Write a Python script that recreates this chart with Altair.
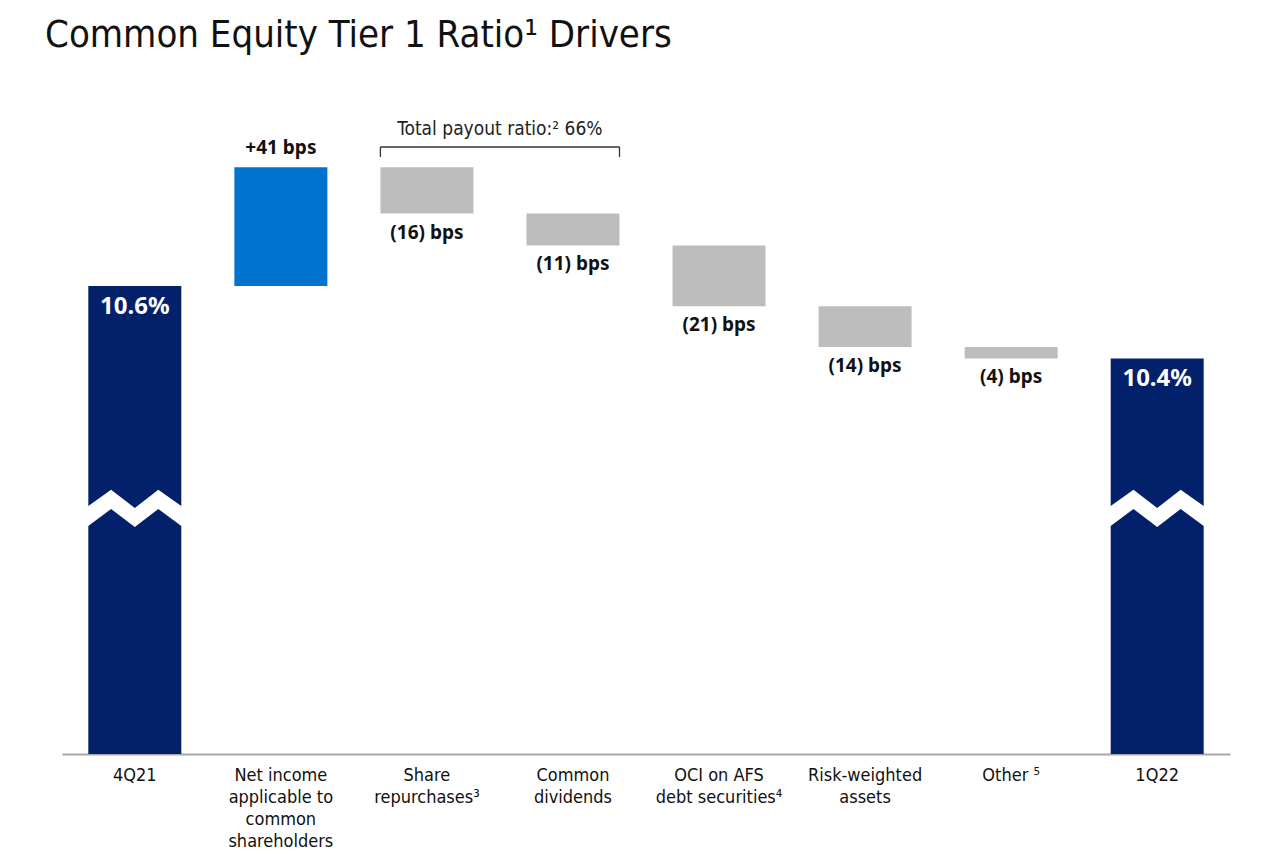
import altair as alt
import pandas as pd

# ---- data (basis points of CET1 ratio) ----
categories = ["4Q21", "Net income|applicable to|common|shareholders", "Share|repurchases\u00b3",
              "Common|dividends", "OCI on AFS|debt securities\u2074", "Risk-weighted|assets",
              "Other \u2075", "1Q22"]
values = [1060, 41, -16, -11, -21, -14, -4, 1035]
kinds = ["total", "delta", "delta", "delta", "delta", "delta", "delta", "total"]
labels = ["10.6%", "+41 bps", "(16) bps", "(11) bps", "(21) bps", "(14) bps", "(4) bps", "10.4%"]
payout_text = "Total payout ratio:\u00b2 66%"

NAVY = "#03206A"
BLUE = "#0073CF"
GRAY = "#BDBDBD"
FONT = "Liberation Sans Narrow, DejaVu Sans Condensed, Roboto Condensed, Noto Sans, sans-serif"
BOLD = "Noto Sans, DejaVu Sans, sans-serif"

Y_MIN, Y_MAX = 898.6, 1127.6

rows = []
running = 0
for c, v, k, l in zip(categories, values, kinds, labels):
    if k == "total":
        start, end = Y_MIN, v
        running = v
        color = NAVY
    else:
        start, end = running, running + v
        running = end
        color = BLUE if v > 0 else GRAY
    top = max(start, end)
    bot = min(start, end)
    rows.append(dict(cat=c, start=start, end=end, top=top, bot=bot, kind=k,
                     label=l, color=color, pos=(v > 0)))
df = pd.DataFrame(rows)

xscale = alt.Scale(domain=categories, paddingInner=0.363, paddingOuter=0.18)
xenc = alt.X("cat:N", scale=xscale,
             axis=alt.Axis(title=None, labelExpr="split(datum.label, '|')",
                           labelAngle=0, labelFont=FONT, labelFontSize=18,
                           labelColor="#111111", labelLineHeight=22,
                           labelBaseline="top", labelPadding=12,
                           ticks=False, domainColor="#A8A8A8", domainWidth=2,
                           labelLimit=200))
xs = alt.X("cat:N", scale=xscale)
yscale = alt.Scale(domain=[Y_MIN, Y_MAX], nice=False, zero=False)

base = alt.Chart(df)

bars = base.mark_bar(size=93).encode(
    x=xenc,
    y=alt.Y("start:Q", scale=yscale, axis=None),
    y2="end:Q",
    color=alt.Color("color:N", scale=None),
)

# break marker on total bars
brk_path = ("M-1.03,-0.02 L-0.51,-0.39 L0,0 L0.505,-0.39 L1.03,-0.02 "
            "L1.03,0.41 L0.505,0.02 L0,0.41 L-0.51,0.02 L-1.03,0.41 Z")
breaks = base.transform_filter(alt.datum.kind == "total").mark_point(
    shape=brk_path, filled=True, fill="white", strokeWidth=0, opacity=1, size=93 * 93
).encode(x=xs, y=alt.value(418))

tot_lab = base.transform_filter(alt.datum.kind == "total").mark_text(
    baseline="top", dy=9, font=BOLD, fontWeight="bold", fontSize=24, color="white"
).encode(x=xs, y="top:Q", text="label:N")

pos_lab = base.transform_filter((alt.datum.kind == "delta") & alt.datum.pos).mark_text(
    baseline="alphabetic", dy=-13, font=BOLD, fontWeight="bold", fontSize=19, color="#111111"
).encode(x=xs, y="top:Q", text="label:N")

neg_lab = base.transform_filter((alt.datum.kind == "delta") & (~alt.datum.pos)).mark_text(
    baseline="top", dy=10, font=BOLD, fontWeight="bold", fontSize=19, color="#111111"
).encode(x=xs, y="bot:Q", text="label:N")

# bracket over share repurchases + common dividends
br = pd.DataFrame([dict(a=categories[2], b=categories[3], t=payout_text)])
bchart = alt.Chart(br)
bracket = bchart.mark_rule(color="#333333", strokeWidth=1.3).encode(
    x=alt.X("a:N", scale=xscale, bandPosition=0),
    x2=alt.X2("b:N", bandPosition=1),
    y=alt.value(57),
)
tick_l = bchart.mark_rule(color="#333333", strokeWidth=1.3).encode(
    x=alt.X("a:N", scale=xscale, bandPosition=0), y=alt.value(57), y2=alt.value(67))
tick_r = bchart.mark_rule(color="#333333", strokeWidth=1.3).encode(
    x=alt.X("b:N", scale=xscale, bandPosition=1), y=alt.value(57), y2=alt.value(67))
btext = bchart.mark_text(font=FONT, fontSize=19, color="#222222", baseline="alphabetic", dx=73).encode(
    x=alt.X("a:N", scale=xscale), y=alt.value(45), text="t:N")

chart = alt.layer(bars, breaks, tot_lab, pos_lab, neg_lab, bracket, tick_l, tick_r, btext).properties(
    width=1168, height=664,
    title=alt.TitleParams("Common Equity Tier 1 Ratio\u00b9 Drivers", anchor="start",
                          font=FONT, fontSize=38, fontWeight="normal", color="#111111",
                          baseline="alphabetic", offset=45, dx=-17, dy=40),
    autosize=alt.AutoSizeParams(type="none"),
    padding={"left": 54, "top": 82, "right": 40, "bottom": 96},
).configure_view(stroke=None)

chart.save("out.html", embed_options={"renderer": "svg", "actions": False})
